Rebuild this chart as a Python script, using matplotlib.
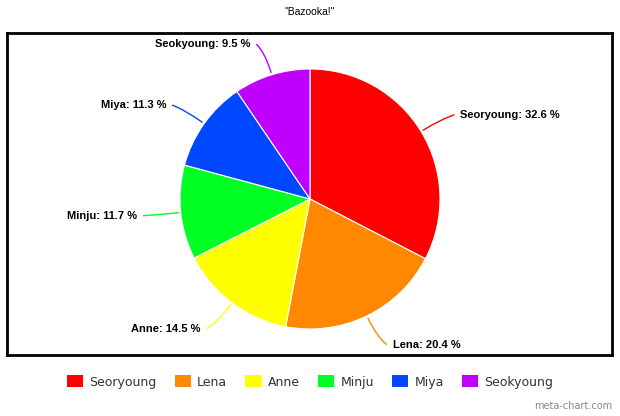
import matplotlib
matplotlib.use("Agg")
import matplotlib.pyplot as plt
import numpy as np
from matplotlib.patches import Patch
from matplotlib.path import Path
from matplotlib.patches import PathPatch

names = ["Seoryoung", "Lena", "Anne", "Minju", "Miya", "Seokyoung"]
shares = [32.6, 20.4, 14.5, 11.7, 11.3, 9.5]
colors = ["#ff0000", "#ff8800", "#ffff00", "#00ff22", "#0048ff", "#bf00ff"]
title = '"Bazooka!"'

W, H = 620, 416
fig = plt.figure(figsize=(W / 100, H / 100), dpi=100)

# axes in pixel units (y up), spans the bordered box
x0, x1, ytop, ybot = 7, 612, 33, 355
ax = fig.add_axes([x0 / W, (H - ybot) / H, (x1 - x0) / W, (ybot - ytop) / H])

cx, cy, r = 310, H - 199, 130
ax.pie(shares, colors=colors, startangle=90, counterclock=False,
       center=(cx, cy), radius=r, frame=True,
       wedgeprops=dict(edgecolor="white", linewidth=0.8))
ax.set_xlim(x0, x1)
ax.set_ylim(H - ybot, H - ytop)
ax.set_aspect("auto")
ax.set_xticks([])
ax.set_yticks([])
for s in ax.spines.values():
    s.set_linewidth(2)
    s.set_color("black")

# labels with curved leader lines
cum = np.cumsum([0] + shares[:-1])
for name, val, start, col in zip(names, shares, cum, colors):
    ang = np.deg2rad((start + val / 2) / 100 * 360)
    dx, dy = np.sin(ang), np.cos(ang)
    side = 1 if dx >= 0 else -1
    p0 = (cx + (r + 2) * dx, cy + (r + 2) * dy)
    pc = (cx + (r + 24) * dx, cy + (r + 24) * dy)
    pl = (cx + (r + 32) * dx, cy + (r + 32) * dy)
    p2 = (pl[0] + side * 6, pl[1])
    path = Path([p0, pc, p2], [Path.MOVETO, Path.CURVE3, Path.CURVE3])
    ax.add_patch(PathPatch(path, facecolor="none", edgecolor=col, lw=1))
    ax.text(p2[0] + side * 6, p2[1], f"{name}: {val} %",
            ha="left" if side > 0 else "right", va="center",
            fontsize=8, fontweight="bold", family="Liberation Sans")

fig.text(310 / W, 1 - 12 / H, title, ha="center", va="center",
         fontsize=7.5, family="Liberation Sans")

handles = [Patch(facecolor=c, edgecolor="none") for c in colors]
leg = fig.legend(handles, names, loc="center", ncol=6, frameon=False,
                 bbox_to_anchor=(310 / W, 1 - 382 / H),
                 prop=dict(family="DejaVu Sans", size=9),
                 handlelength=1.3, handleheight=1.05, handletextpad=0.5,
                 columnspacing=1.45)
for t in leg.get_texts():
    t.set_color("#333333")

fig.text(612 / W, 1 - 406 / H, "meta-chart.com", ha="right", va="center",
         fontsize=7, color="#888888", family="DejaVu Sans")

fig.savefig("out.png", dpi=100)
